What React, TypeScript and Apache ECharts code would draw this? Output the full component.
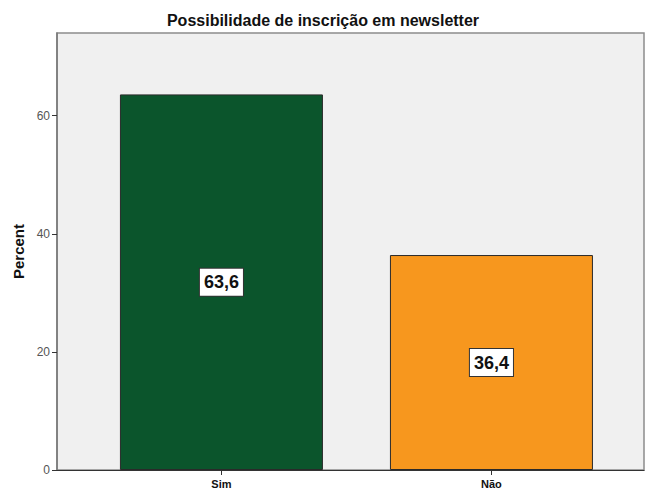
import React, { useEffect, useRef } from "react";
import * as echarts from "echarts";

const categories = ["Sim", "Não"];
const percentValues = [63.6, 36.4];
const barColors = ["#0b552c", "#f7971e"];
const yTicks = [0, 20, 40, 60];
const titleText = "Possibilidade de inscrição em newsletter";
const yAxisName = "Percent";

export default function App() {
  const ref = useRef<HTMLDivElement>(null);
  useEffect(() => {
    if (!ref.current) return;
    const chart = echarts.init(ref.current, null, { renderer: "svg" });
    const font = "'Liberation Sans', Arial, sans-serif";
    const catIdx = categories.map((_, i) => i);
    chart.setOption({
      animation: false,
      backgroundColor: "#ffffff",
      title: {
        text: titleText,
        left: "center",
        top: 7,
        textStyle: { fontSize: 16, fontWeight: "bold", color: "#111", fontFamily: font },
      },
      grid: {
        left: 57,
        top: 33,
        right: 2,
        bottom: 23,
        show: true,
        backgroundColor: "#f0f0f0",
        borderColor: "#8c8c8c",
        borderWidth: 1.5,
      },
      xAxis: {
        type: "value",
        min: -0.609,
        max: 1.565,
        splitLine: { show: false },
        axisLine: { show: true, onZero: false, lineStyle: { color: "#333", width: 1.2 } },
        axisTick: { show: true, customValues: catIdx, length: 5, lineStyle: { color: "#333" } },
        axisLabel: {
          customValues: catIdx,
          formatter: (v: number) => categories[Math.round(v)] ?? "",
          fontSize: 11,
          fontWeight: "bold",
          color: "#111",
          fontFamily: font,
          margin: 8,
        },
      },
      yAxis: {
        type: "value",
        min: 0,
        max: 74,
        splitLine: { show: false },
        name: yAxisName,
        nameLocation: "middle",
        nameGap: 30,
        nameRotate: 90,
        nameTextStyle: { fontSize: 15, fontWeight: "bold", color: "#111", fontFamily: font },
        axisLine: { show: true, onZero: false, lineStyle: { color: "#777", width: 1.5 } },
        axisTick: { show: true, customValues: yTicks, length: 5, lineStyle: { color: "#333" } },
        axisLabel: {
          customValues: yTicks,
          fontSize: 12,
          color: "#555",
          fontFamily: font,
          margin: 7,
        },
      },
      series: [
        {
          type: "bar",
          barWidth: 203,
          data: percentValues.map((v, i) => ({
            value: [i, v],
            itemStyle: { color: barColors[i], borderColor: "#2a2a2a", borderWidth: 1 },
          })),
          label: {
            show: true,
            position: "inside",
            formatter: (p: any) => Number(p.value[1]).toFixed(1).replace(".", ","),
            fontSize: 18,
            fontWeight: "bold",
            color: "#111",
            fontFamily: font,
            backgroundColor: "#ffffff",
            borderColor: "#333",
            borderWidth: 1,
            padding: [5, 4, 4, 4],
          },
        },
      ],
    });
    return () => chart.dispose();
  }, []);
  return <div ref={ref} style={{ width: 646, height: 493, position: "absolute", left: 0, top: 0 }} />;
}
